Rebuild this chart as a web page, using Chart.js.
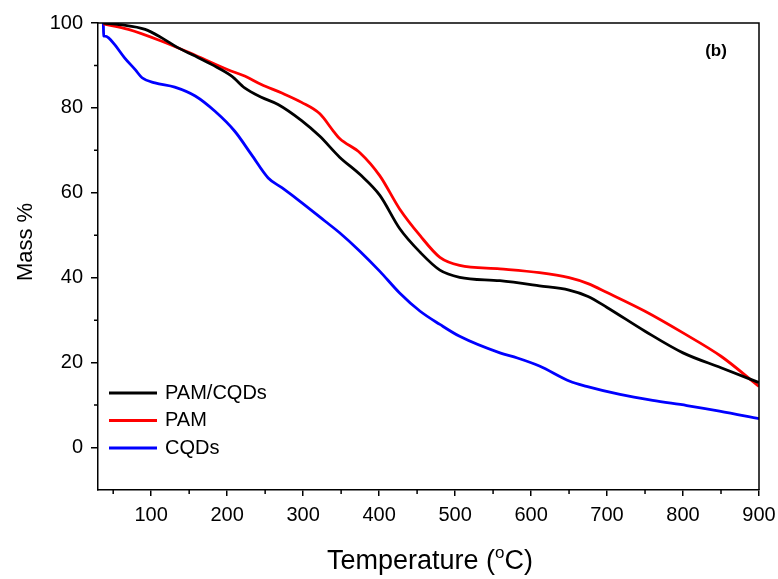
<!DOCTYPE html>
<html>
<head>
<meta charset="utf-8">
<title>TGA</title>
<script src="https://cdn.jsdelivr.net/npm/chart.js@4/dist/chart.umd.min.js"></script>
<style>
    body { margin: 0; background: #fff; }
    #wrap { width: 778px; height: 579px; }
</style>
</head>
<body>
<div id="wrap"><canvas id="tga" width="778" height="579"></canvas></div>
<script>
// --- Dados TGA (temperatura em °C, massa em %) ---
const tempPamCqds = [37, 60, 92, 114, 135, 158, 180, 206, 223, 245, 267, 298, 322, 348, 375, 401, 427, 454, 480, 506, 559, 611, 650, 675, 700, 750, 800, 850, 900];
const massPamCqds = [100, 99.6, 98.5, 96.5, 94.2, 92.2, 90.2, 87.5, 84.7, 82.5, 80.8, 77, 73.3, 68.4, 64.3, 59.4, 51.6, 46, 41.8, 40.1, 39.3, 38.1, 37.1, 35.6, 33, 27.4, 22.3, 18.8, 15.3];

const tempPam = [37, 70, 114, 158, 201, 223, 245, 272, 298, 322, 340, 348, 375, 401, 427, 454, 480, 506, 559, 611, 650, 675, 700, 750, 800, 850, 900];
const massPam = [99.8, 98.5, 95.7, 92.4, 89, 87.5, 85.5, 83.5, 81.3, 78.6, 74.5, 72.8, 69.4, 64, 56.2, 49.9, 44.8, 42.9, 42.1, 41.2, 40, 38.6, 36.5, 32.1, 27, 21.5, 14.4];

const tempCqds = [37, 37.5, 39, 44, 52, 65, 79, 88, 105, 131, 158, 184, 210, 232, 254, 272, 298, 329, 348, 375, 401, 427, 454, 480, 506, 559, 582, 611, 651, 673, 717, 760, 805, 848, 900];
const massCqds = [100, 97, 96.9, 96.5, 94.9, 91.8, 89, 87.1, 85.9, 84.9, 82.8, 79.2, 74.5, 69, 63.5, 61.2, 57.7, 53.3, 50.6, 46.2, 41.5, 36.4, 32.1, 29, 26.2, 22.3, 21.1, 19.2, 15.6, 14.4, 12.5, 11.1, 9.9, 8.6, 6.8];

const xTicks = [100, 200, 300, 400, 500, 600, 700, 800, 900];
const xMinor = [50, 150, 250, 350, 450, 550, 650, 750, 850];
const yTicks = [0, 20, 40, 60, 80, 100];
const yMinor = [10, 30, 50, 70, 90];

const seriesNames = ["PAM/CQDs", "PAM", "CQDs"];
const seriesColors = ["#000000", "#ff0000", "#0000ff"];

const FONT = "'Liberation Sans', Arial, sans-serif";

function pontos(t, m) {
    return t.map((v, i) => ({ x: v, y: m[i] }));
}

// Moldura, ticks menores, títulos dos eixos, legenda e rótulo (b)
const extras = {
    id: "extras",
    afterDraw(chart) {
        const ctx = chart.ctx;
        const a = chart.chartArea;
        const sx = chart.scales.x;
        const sy = chart.scales.y;
        ctx.save();
        ctx.strokeStyle = "#000";
        ctx.lineWidth = 1.5;
        ctx.beginPath();
        ctx.moveTo(a.left, a.top);
        ctx.lineTo(a.right, a.top);
        ctx.lineTo(a.right, a.bottom);
        ctx.stroke();

        ctx.beginPath();
        xMinor.forEach(v => {
            const px = sx.getPixelForValue(v);
            ctx.moveTo(px, a.bottom);
            ctx.lineTo(px, a.bottom + 4);
        });
        yMinor.forEach(v => {
            const py = sy.getPixelForValue(v);
            ctx.moveTo(a.left, py);
            ctx.lineTo(a.left - 4, py);
        });
        ctx.stroke();

        ctx.fillStyle = "#000";
        // eixo Y
        ctx.save();
        ctx.translate(26, 242);
        ctx.rotate(-Math.PI / 2);
        ctx.font = "22px " + FONT;
        ctx.textAlign = "center";
        ctx.textBaseline = "middle";
        ctx.fillText("Mass %", 0, 0);
        ctx.restore();

        // eixo X com o "o" sobrescrito
        ctx.textBaseline = "alphabetic";
        ctx.textAlign = "left";
        const p1 = "Temperature (";
        const p2 = "C)";
        ctx.font = "27px " + FONT;
        const w1 = ctx.measureText(p1).width;
        const w2 = ctx.measureText(p2).width;
        ctx.font = "17px " + FONT;
        const wo = ctx.measureText("o").width;
        const x0 = 430 - (w1 + wo + w2) / 2;
        const base = 569;
        ctx.font = "27px " + FONT;
        ctx.fillText(p1, x0, base);
        ctx.font = "17px " + FONT;
        ctx.fillText("o", x0 + w1, base - 11);
        ctx.font = "27px " + FONT;
        ctx.fillText(p2, x0 + w1 + wo, base);

        // legenda
        ctx.font = "20px " + FONT;
        ctx.textBaseline = "middle";
        ctx.lineWidth = 3;
        seriesNames.forEach((nome, i) => {
            const y = 393 + i * 27.5;
            ctx.strokeStyle = seriesColors[i];
            ctx.beginPath();
            ctx.moveTo(109, y);
            ctx.lineTo(157, y);
            ctx.stroke();
            ctx.fillText(nome, 165, y);
        });

        ctx.font = "bold 17px " + FONT;
        ctx.textAlign = "center";
        ctx.fillText("(b)", 716, 51);
        ctx.restore();
    }
};

new Chart(document.getElementById("tga"), {
    type: "line",
    data: {
        datasets: [
            { label: seriesNames[0], data: pontos(tempPamCqds, massPamCqds), borderColor: seriesColors[0] },
            { label: seriesNames[1], data: pontos(tempPam, massPam), borderColor: seriesColors[1] },
            { label: seriesNames[2], data: pontos(tempCqds, massCqds), borderColor: seriesColors[2] }
        ]
    },
    options: {
        responsive: false,
        animation: false,
        layout: { padding: { top: 23, right: 19, left: 0, bottom: 0 } },
        elements: {
            point: { radius: 0 },
            line: { borderWidth: 2.8, cubicInterpolationMode: "monotone", fill: false }
        },
        plugins: {
            legend: { display: false },
            tooltip: { enabled: false }
        },
        scales: {
            x: {
                type: "linear",
                min: 30,
                max: 900,
                afterBuildTicks: s => { s.ticks = xTicks.map(v => ({ value: v })); },
                afterFit: s => { s.height = 89; s.paddingLeft = 0; s.paddingRight = 0; },
                ticks: { color: "#000", font: { size: 20, family: FONT }, padding: 7, maxRotation: 0 },
                grid: { drawOnChartArea: false, tickLength: 6, color: "#000", lineWidth: 1.5 },
                border: { display: true, color: "#000", width: 1.5 }
            },
            y: {
                min: -10,
                max: 100,
                afterBuildTicks: s => { s.ticks = yTicks.map(v => ({ value: v })); },
                afterFit: s => { s.width = 98; s.paddingTop = 0; s.paddingBottom = 0; },
                ticks: { color: "#000", font: { size: 20, family: FONT }, padding: 8 },
                grid: { drawOnChartArea: false, tickLength: 7, color: "#000", lineWidth: 1.5 },
                border: { display: true, color: "#000", width: 1.5 }
            }
        }
    },
    plugins: [extras]
});
</script>
</body>
</html>
